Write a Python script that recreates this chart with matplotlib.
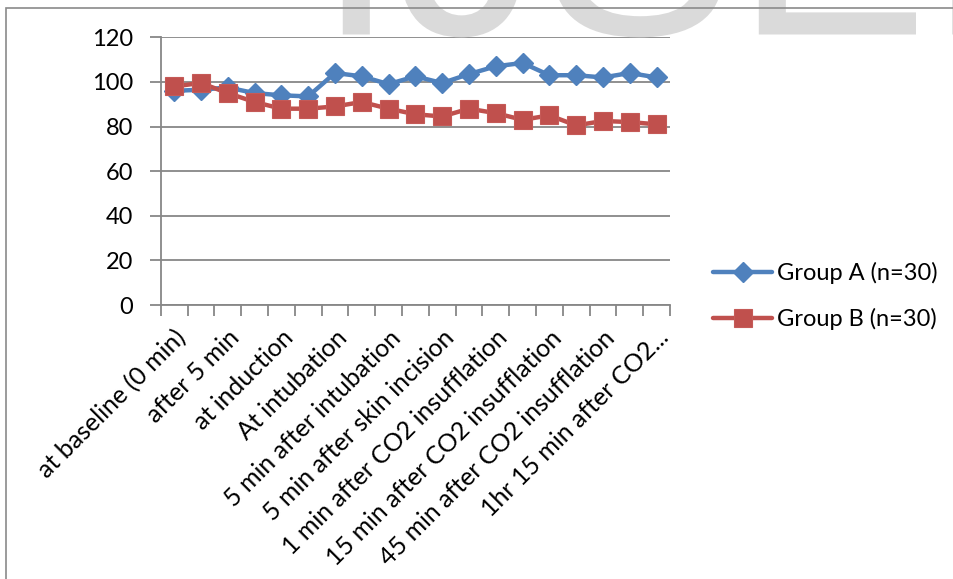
import matplotlib
matplotlib.use("Agg")
import matplotlib.pyplot as plt
from matplotlib.patches import Rectangle, PathPatch
from matplotlib.textpath import TextPath
from matplotlib.font_manager import FontProperties
from matplotlib.transforms import Affine2D

# heart rate by time point, two groups
time_labels = ["at baseline (0 min)", "after 5 min", "at induction", "At intubation",
               "5 min after intubation", "5 min after skin incision",
               "1 min after CO2 insufflation", "15 min after CO2 insufflation",
               "45 min after CO2 insufflation", "1hr 15 min after CO2..."]
group_a = [96, 96.5, 97.5, 95, 94, 93.5, 104, 102.5, 99, 102.5, 99.5, 103.5, 107, 108.5,
           103, 103, 102, 104, 102]
group_b = [98, 99.5, 95, 91, 88, 88, 89, 91, 88, 85.5, 84.5, 88, 86, 83, 85, 80.5, 82.5,
           82, 81]

blue = "#4F81BD"
red = "#C0504D"
grey = "#878787"
fs = 17

plt.rcParams["font.family"] = ["Lato", "DejaVu Sans"]

W, H = 954, 579
fig = plt.figure(figsize=(W / 100, H / 100), dpi=100)

# watermark, placed in pixel coordinates
wm = TextPath((0, 0), "IJSER", size=290, prop=FontProperties(family="Liberation Sans"))
fig.patches.append(PathPatch(wm, transform=Affine2D().translate(316, H - 34.5),
                             facecolor="#dadada", edgecolor="none", zorder=0))

# outer chart border
fig.patches.append(Rectangle((6 / W, -0.1), 1.2, 1.1 - 8 / H,
                             transform=fig.transFigure, fill=False,
                             edgecolor="#8a8a8a", linewidth=1.2, zorder=1))

ax = fig.add_axes([160.7 / W, 1 - 305 / H, (670 - 160.7) / W, (305 - 37.3) / H])
ax.patch.set_alpha(0)

n = len(group_a)
x = list(range(n))
ax.plot(x, group_a, color=blue, lw=3.2, marker="D", ms=10, mec=blue, mfc=blue,
        solid_joinstyle="round", solid_capstyle="round", label="Group A (n=30)", zorder=3)
ax.plot(x, group_b, color=red, lw=3.2, marker="s", ms=13, mec="#c55a57", mfc=red, mew=0.8,
        solid_joinstyle="round", solid_capstyle="round", label="Group B (n=30)", zorder=4)

ax.set_xlim(-0.5, n - 0.5)
ax.set_ylim(0, 120)
ax.set_yticks(range(0, 121, 20))
ax.grid(axis="y", color=grey, lw=1.3)
ax.set_axisbelow(True)

# category axis: ticks on boundaries, labels on every other category
ax.set_xticks([i - 0.5 for i in range(n + 1)])
ax.set_xticklabels([])
ax.set_xticks(list(range(0, n, 2)), minor=True)
ax.set_xticklabels(time_labels, minor=True, rotation=45, ha="right",
                   rotation_mode="anchor", fontsize=18)
ax.tick_params(axis="x", which="major", length=8, width=1.3, color=grey, direction="out")
ax.tick_params(axis="x", which="minor", length=0, pad=15)
ax.tick_params(axis="y", length=8, width=1.3, color=grey, pad=12, labelsize=fs)

for s in ["top", "right"]:
    ax.spines[s].set_visible(False)
for s in ["left", "bottom"]:
    ax.spines[s].set_color(grey)
    ax.spines[s].set_linewidth(1.3)

fig.legend(loc="center left", bbox_to_anchor=(713 / W, 1 - 296 / H), frameon=False,
           fontsize=fs, handlelength=2.5, handletextpad=0.2, labelspacing=1.0,
           borderpad=0, borderaxespad=0)

fig.savefig("out.png", dpi=100)
